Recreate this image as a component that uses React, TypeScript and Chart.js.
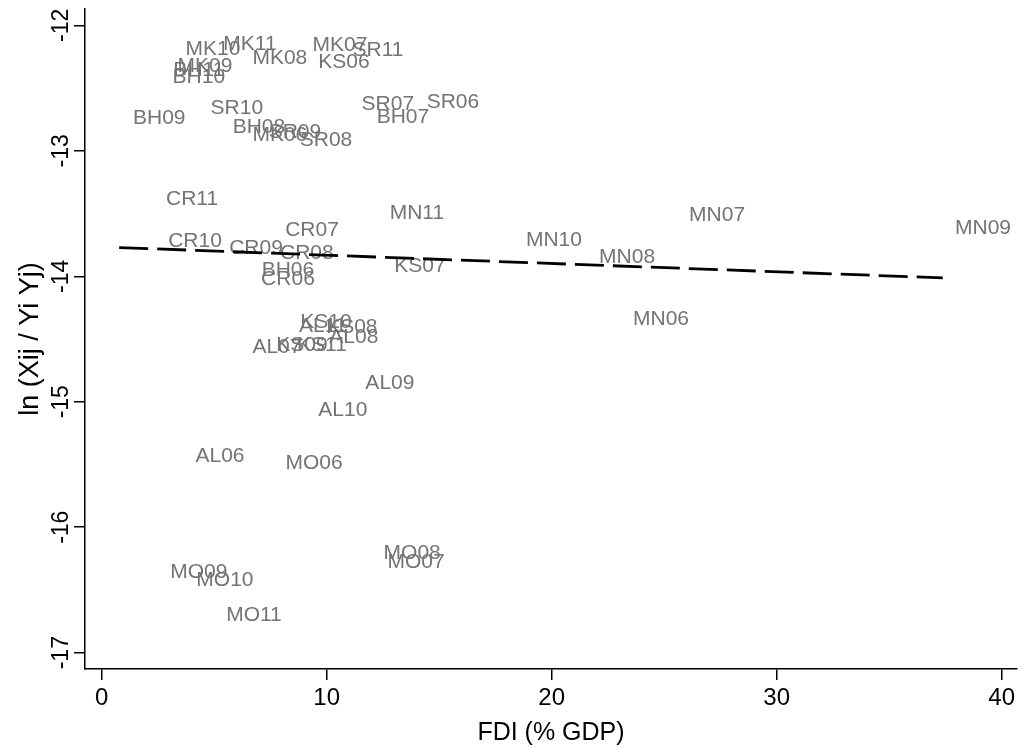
import React, { useEffect, useRef } from "react";
import { Chart, registerables } from "chart.js";

Chart.register(...registerables);

const FONT = '"Liberation Sans", Arial, sans-serif';

const codes = [
  "MK11", "MK10", "MK07", "SR11", "MK08", "KS06", "MK09", "BH11", "BH10",
  "BH09", "SR10", "SR07", "SR06", "BH07", "BH08", "MK06", "SR09", "SR08",
  "CR11", "MN11", "CR07", "CR10", "CR09", "CR08", "MN07", "MN09", "MN10",
  "MN08", "KS07", "BH06", "CR06", "MN06", "KS10", "AL11", "KS08", "AL08",
  "AL07", "KS09", "KS11", "AL09", "AL10", "AL06", "MO06", "MO08", "MO07",
  "MO09", "MO10", "MO11",
];

const fdi = [
  6.59, 4.95, 10.59, 12.28, 7.92, 10.77, 4.59, 4.32, 4.32,
  2.56, 6.01, 12.72, 15.61, 13.39, 6.99, 7.92, 8.59, 9.97,
  4.02, 14.01, 9.35, 4.15, 6.86, 9.12, 27.35, 39.17, 20.1,
  23.35, 14.15, 8.28, 8.28, 24.86, 9.97, 9.83, 11.12, 11.21,
  7.79, 8.9, 9.79, 12.81, 10.72, 5.26, 9.44, 13.8, 13.97,
  4.32, 5.48, 6.77,
];

const lnTrade = [
  -12.151, -12.191, -12.159, -12.199, -12.263, -12.295, -12.327, -12.359, -12.414,
  -12.741, -12.661, -12.629, -12.614, -12.733, -12.813, -12.876, -12.853, -12.916,
  -13.386, -13.498, -13.633, -13.721, -13.777, -13.817, -13.514, -13.618, -13.713,
  -13.849, -13.92, -13.952, -14.024, -14.343, -14.367, -14.398, -14.406, -14.486,
  -14.566, -14.55, -14.55, -14.853, -15.068, -15.434, -15.49, -16.207, -16.279,
  -16.359, -16.422, -16.701,
];

const fitX = [0.78, 37.38];
const fitY = [-13.771, -14.013];

const xTicks = [0, 10, 20, 30, 40];
const yTicks = [-17, -16, -15, -14, -13, -12];

const pointLabels = {
  id: "pointLabels",
  beforeDatasetsDraw(chart: any) {
    const { ctx } = chart;
    const meta = chart.getDatasetMeta(0);
    ctx.save();
    ctx.font = `21px ${FONT}`;
    ctx.fillStyle = "#747474";
    ctx.textAlign = "center";
    ctx.textBaseline = "middle";
    meta.data.forEach((el: any, i: number) => {
      ctx.fillText(codes[i], el.x, el.y);
    });
    ctx.restore();
  },
};

const yTickLabels = {
  id: "yTickLabels",
  afterDraw(chart: any) {
    const { ctx } = chart;
    const y = chart.scales.y;
    ctx.save();
    ctx.font = `23px ${FONT}`;
    ctx.fillStyle = "#000";
    ctx.textAlign = "center";
    ctx.textBaseline = "middle";
    yTicks.forEach((v) => {
      const py = y.getPixelForValue(v);
      ctx.save();
      ctx.translate(62, py);
      ctx.rotate(-Math.PI / 2);
      ctx.fillText(String(v), 0, 0);
      ctx.restore();
    });
    ctx.restore();
  },
};

export default function App() {
  const ref = useRef<HTMLCanvasElement>(null);
  useEffect(() => {
    if (!ref.current) return;
    const chart = new Chart(ref.current, {
      type: "scatter",
      data: {
        datasets: [
          {
            data: fdi.map((x, i) => ({ x, y: lnTrade[i] })),
            pointRadius: 0,
            pointHoverRadius: 0,
            showLine: false,
          },
          {
            type: "line",
            data: fitX.map((x, i) => ({ x, y: fitY[i] })),
            borderColor: "#000",
            borderWidth: 2.8,
            borderDash: [29, 9],
            pointRadius: 0,
            fill: false,
          } as any,
        ],
      },
      options: {
        responsive: false,
        animation: false,
        layout: { padding: { top: 9, right: 6, left: 0, bottom: 0 } },
        plugins: {
          legend: { display: false },
          tooltip: { enabled: false },
        },
        scales: {
          x: {
            type: "linear",
            min: -0.74,
            max: 40.68,
            afterBuildTicks: (s: any) => {
              s.ticks = xTicks.map((v) => ({ value: v }));
            },
            afterFit: (s: any) => {
              s.height = 79;
            },
            grid: {
              display: true,
              drawOnChartArea: false,
              drawTicks: true,
              tickLength: 11,
              color: "#000",
              lineWidth: 1.5,
            },
            border: { display: true, color: "#000", width: 1.5 },
            ticks: {
              font: { family: FONT, size: 24 },
              color: "#000",
              padding: 4,
              maxRotation: 0,
              callback: (v: any) => String(v),
            },
            title: {
              display: true,
              text: "FDI (% GDP)",
              font: { family: FONT, size: 25 },
              color: "#000",
              padding: { top: 0, bottom: 0 },
            },
          },
          y: {
            type: "linear",
            min: -17.13,
            max: -11.87,
            afterBuildTicks: (s: any) => {
              s.ticks = yTicks.map((v) => ({ value: v }));
            },
            afterFit: (s: any) => {
              s.width = 85;
            },
            grid: {
              display: true,
              drawOnChartArea: false,
              drawTicks: true,
              tickLength: 11,
              color: "#000",
              lineWidth: 1.5,
            },
            border: { display: true, color: "#000", width: 1.5 },
            ticks: { display: false },
            title: {
              display: true,
              text: "ln (Xij / Yi Yj)",
              font: { family: FONT, size: 27 },
              color: "#000",
              padding: { top: 14, bottom: 0 },
            },
          },
        },
      },
      plugins: [pointLabels, yTickLabels],
    });
    return () => chart.destroy();
  }, []);
  return (
    <div style={{ position: "absolute", left: 0, top: 0, width: 1023, height: 748, background: "#fff" }}>
      <canvas ref={ref} width={1023} height={748} />
    </div>
  );
}
